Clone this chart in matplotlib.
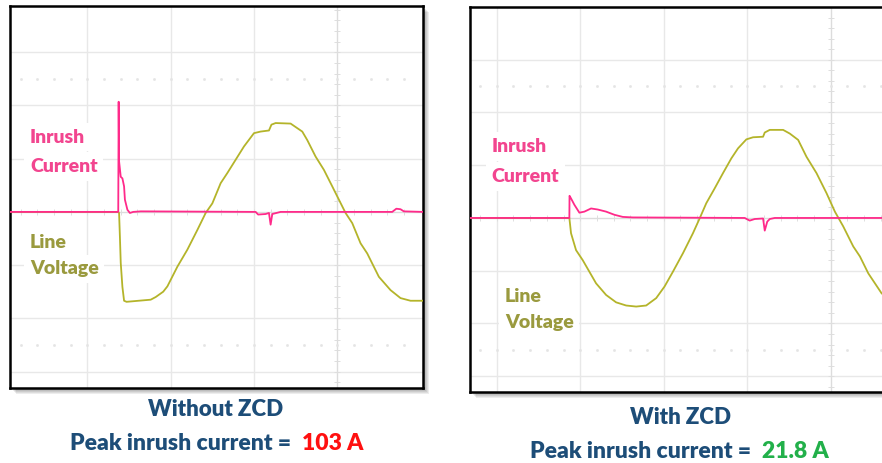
import matplotlib.pyplot as plt
from matplotlib.patches import Rectangle
import numpy as np

# Traces read off the two scope screens, in divisions (0, 0 = screen centre)
# --- without ZCD ---
left_volt_x = [-3.93, -2.63, -2.62, -2.61, -2.60, -2.58, -2.56, -2.53, -2.24, -2.18,
               -2.09, -2.04, -1.92, -1.80, -1.68, -1.58, -1.50, -1.40, -1.32, -1.22,
               -1.12, -1.00, -0.92, -0.82, -0.79, -0.74, -0.56, -0.42, -0.36, -0.26,
               -0.16, -0.06, 0.02, 0.10, 0.18, 0.28, 0.36, 0.50, 0.64, 0.76, 0.88, 1.03]
left_volt_y = [0.0, 0.0, -0.02, -0.47, -0.96, -1.41, -1.67, -1.69, -1.65, -1.60,
               -1.50, -1.40, -1.03, -0.71, -0.34, -0.02, 0.16, 0.54, 0.73, 0.98,
               1.23, 1.48, 1.51, 1.53, 1.64, 1.67, 1.66, 1.51, 1.35, 1.04,
               0.79, 0.48, 0.23, -0.02, -0.21, -0.59, -0.78, -1.22, -1.47, -1.62, -1.67, -1.67]
left_curr_x = [-3.93, -2.63, -2.625, -2.62, -2.60, -2.58, -2.56, -2.55, -2.52, -2.49,
               -2.45, -2.36, -0.98, -0.95, -0.86, -0.82, -0.80, -0.78, -0.68, 0.66,
               0.71, 0.76, 0.80, 1.03]
left_curr_y = [0.0, 0.0, 2.07, 0.95, 0.66, 0.63, 0.48, 0.23, 0.04, -0.02,
               0.0, 0.01, 0.0, -0.05, -0.04, -0.02, -0.24, -0.04, 0.0, 0.0,
               0.06, 0.05, 0.01, 0.0]

# --- with ZCD ---
right_volt_x = [-4.32, -3.13, -3.11, -3.05, -2.97, -2.89, -2.81, -2.69, -2.57, -2.45,
                -2.33, -2.21, -2.09, -1.99, -1.89, -1.77, -1.65, -1.57, -1.49, -1.39,
                -1.29, -1.19, -1.11, -1.01, -0.93, -0.81, -0.79, -0.73, -0.57, -0.49,
                -0.39, -0.29, -0.17, -0.05, 0.05, 0.15, 0.27, 0.35, 0.45, 0.53, 0.61, 0.77]
right_volt_y = [0.0, 0.0, -0.29, -0.61, -0.80, -1.02, -1.24, -1.46, -1.60, -1.66,
                -1.68, -1.66, -1.52, -1.30, -1.02, -0.67, -0.29, -0.01, 0.28, 0.56,
                0.85, 1.13, 1.32, 1.49, 1.53, 1.54, 1.62, 1.67, 1.67, 1.60,
                1.48, 1.16, 0.85, 0.47, 0.12, -0.16, -0.54, -0.73, -1.05, -1.24, -1.43, -1.62]
right_curr_x = [-4.32, -3.13, -3.128, -3.11, -3.07, -3.01, -2.95, -2.87, -2.79, -2.69,
                -2.59, -2.49, -2.37, -1.03, -0.97, -0.91, -0.81, -0.79, -0.76, -0.73,
                -0.67, 0.77]
right_curr_y = [0.0, 0.0, 0.42, 0.37, 0.25, 0.10, 0.12, 0.18, 0.16, 0.12,
                0.06, 0.02, 0.01, 0.0, -0.05, -0.02, -0.01, -0.24, -0.07, -0.02,
                0.0, 0.0]

captions = ["Without ZCD", "With ZCD"]
peak_values = ["103 A", "21.8 A"]
peak_colors = ["#ff1010", "#22b04a"]

VOLT = "#b4b42a"
CURR = "#ff2a8a"
VOLT_TXT = "#9a9a3e"
CURR_TXT = "#f2458f"
NAVY = "#1d4d78"
GRID = "#e8e8e8"
FONT = "Lato"
WEIGHT = "heavy"

fig = plt.figure(figsize=(8.82, 4.63), dpi=100)
W, H = 882.0, 463.0


def scope(px_box, xlim, ylim, xgrid, vx, vy, ix, iy, labels):
    x0, y0, x1, y1 = px_box
    rect = [x0 / W, 1 - y1 / H, (x1 - x0) / W, (y1 - y0) / H]
    # soft drop shadow
    for k in range(1, 7):
        fig.add_artist(Rectangle((rect[0] + k / W, rect[1] - k / H), rect[2], rect[3],
                                 transform=fig.transFigure, facecolor="black",
                                 alpha=0.07, edgecolor="none", zorder=0))
    ax = fig.add_axes(rect)
    ax.set_facecolor("white")
    ax.set_xlim(*xlim)
    ax.set_ylim(*ylim)

    for x in xgrid:
        ax.axvline(x, color=GRID if x != 0 else "#dcdcdc", lw=1.0, zorder=1)
    for y in range(-3, 4):
        ax.axhline(y, color=GRID if y != 0 else "#dcdcdc", lw=1.0, zorder=1)
    # small ticks on centre lines
    yt = np.arange(-3.2, 4.0, 0.2)
    ax.plot(np.zeros_like(yt), yt, ls="none", marker="_", ms=4, mew=0.7, color="#dedede", zorder=1)
    xt = np.arange(-4.2, 1.0, 0.2)
    ax.plot(xt, np.zeros_like(xt), ls="none", marker="|", ms=4, mew=0.7, color="#dedede", zorder=1)
    # dotted rows
    xd = np.arange(-4.2, 1.0, 0.2)
    for yy in (2.5, -2.5):
        ax.plot(xd, np.full_like(xd, yy), ls="none", marker="s", ms=0.9, color="#e4e4e4", zorder=1)

    ax.plot(vx, vy, color=VOLT, lw=1.3, zorder=3)
    ax.plot(ix, iy, color=CURR, lw=1.3, zorder=4)

    for (txt, x, y, col) in labels:
        ax.text(x, y, txt, color=col, fontsize=14, fontweight=WEIGHT, family=FONT,
                va="baseline", ha="left", zorder=5,
                bbox=dict(facecolor="white", edgecolor="none", pad=4))

    ax.set_xticks([])
    ax.set_yticks([])
    for s in ax.spines.values():
        s.set_linewidth(1.8)
        s.set_color("black")
    ax.set_zorder(2)
    return ax


ax1 = scope((10, 6, 423, 388), (-3.93, 1.03), (-3.31, 3.87), [-3, -2, -1, 0],
            left_volt_x, left_volt_y, left_curr_x, left_curr_y,
            [("Inrush", -3.69, 1.30, CURR_TXT), ("Current", -3.69, 0.75, CURR_TXT),
             ("Line", -3.69, -0.68, VOLT_TXT), ("Voltage", -3.69, -1.17, VOLT_TXT)])

ax2 = scope((470, 7, 895, 392), (-4.32, 0.77), (-3.30, 4.0), [-4, -3, -2, -1, 0],
            right_volt_x, right_volt_y, right_curr_x, right_curr_y,
            [("Inrush", -4.06, 1.25, CURR_TXT), ("Current", -4.06, 0.68, CURR_TXT),
             ("Line", -3.90, -1.59, VOLT_TXT), ("Voltage", -3.90, -2.08, VOLT_TXT)])

# captions under each screen
cap_pos = [(216, 410, 70, 444), (680, 417, 530, 451)]
for i in range(2):
    cx, cy, px, py = cap_pos[i]
    fig.text(cx / W, 1 - cy / H, captions[i], ha="center", va="center",
             fontsize=16, fontweight=WEIGHT, color=NAVY, family=FONT)
    t1 = fig.text(px / W, 1 - py / H, "Peak inrush current =  ", ha="left", va="center",
                  fontsize=16.5, fontweight=WEIGHT, color=NAVY, family=FONT)
    ax1.annotate(peak_values[i], xy=(1, 0), xycoords=t1, ha="left", va="bottom",
                 fontsize=16.5, fontweight=WEIGHT, color=peak_colors[i], family=FONT,
                 annotation_clip=False)

fig.savefig("out.png", dpi=100)
